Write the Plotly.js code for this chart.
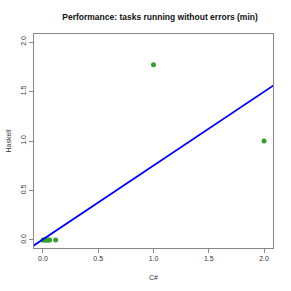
<!DOCTYPE html>
<html>
<head>
<meta charset="utf-8">
<script src="https://cdn.plot.ly/plotly-3.0.1.min.js"></script>
<style>html,body{margin:0;padding:0;background:#fff}#chart{width:291px;height:291px}</style>
</head>
<body>
<div id="chart"></div>
<script>
// Data
const csharp = [0.0, 0.01, 0.02, 0.03, 0.04, 0.05, 0.06, 0.115, 1.0, 2.0];
const haskell = [0, 0, 0, 0, 0, 0, 0, 0, 1.77, 1.0];
// fitted line (intercept, slope)
const lineCoef = [0.006, 0.746];
const xTicks = [0, 0.5, 1, 1.5, 2];
const xTickText = ["0.0", "0.5", "1.0", "1.5", "2.0"];
const yTicks = [0, 0.5, 1, 1.5, 2];
const yTickText = ["0.0", "0.5", "1.0", "1.5", "2.0"];

const xRange = [-0.081, 2.081];
const yRange = [-0.081, 2.081];
const lineX = [xRange[0] - 0.5, xRange[1] + 0.5];
const lineY = lineX.map(x => lineCoef[0] + lineCoef[1] * x);

const font = {family: "Liberation Sans, Arial, sans-serif", size: 7, color: "#333"};

const traces = [
  {x: csharp, y: haskell, type: "scatter", mode: "markers",
   marker: {color: "rgb(51,160,44)", size: 5}, showlegend: false, hoverinfo: "skip"},
  {x: lineX, y: lineY, type: "scatter", mode: "lines",
   line: {color: "#0000ff", width: 1.8}, showlegend: false, hoverinfo: "skip"}
];

const axisCommon = {
  showgrid: false, zeroline: false, showline: true, mirror: true,
  linecolor: "#888", linewidth: 1, ticks: "outside", ticklen: 4,
  tickcolor: "#888", tickfont: font
};

const layout = {
  width: 291, height: 291,
  margin: {l: 34, r: 18, t: 34, b: 43},
  paper_bgcolor: "#fff", plot_bgcolor: "#fff",
  title: {text: "<b>Performance: tasks running without errors (min)</b>",
          font: {family: "Liberation Sans, Arial, sans-serif", size: 8.5, color: "#111"},
          x: 0.55, xanchor: "center", y: 0.94, yanchor: "middle"},
  xaxis: Object.assign({}, axisCommon, {
    range: xRange, tickvals: xTicks, ticktext: xTickText,
    title: {text: "C#", font: font, standoff: 13}
  }),
  yaxis: Object.assign({}, axisCommon, {
    range: yRange, tickvals: yTicks, ticktext: yTickText, tickangle: -90,
    title: {text: "Haskell", font: font, standoff: 7}
  })
};

Plotly.newPlot("chart", traces, layout, {staticPlot: true, displayModeBar: false});
</script>
</body>
</html>
